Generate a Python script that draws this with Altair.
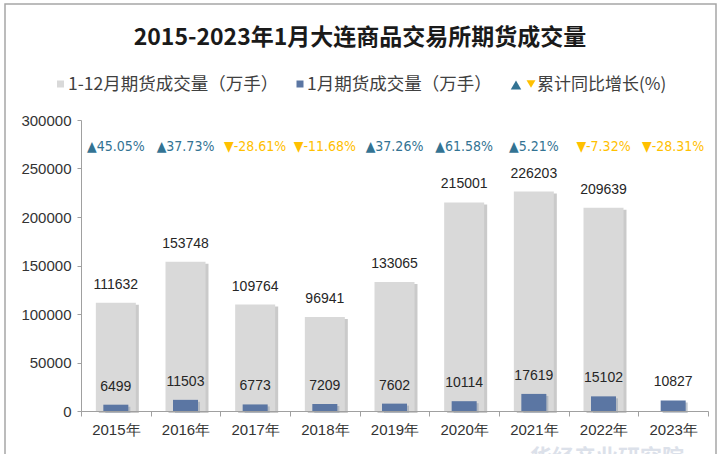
import altair as alt
import pandas as pd

# ---- data ----
years = ["2015年", "2016年", "2017年", "2018年", "2019年", "2020年", "2021年", "2022年", "2023年"]
total_volume = [111632, 153748, 109764, 96941, 133065, 215001, 226203, 209639, None]
jan_volume = [6499, 11503, 6773, 7209, 7602, 10114, 17619, 15102, 10827]
yoy_pct = [45.05, 37.73, -28.61, -11.68, 37.26, 61.58, 5.21, -7.32, -28.31]

title_text = "2015-2023年1月大连商品交易所期货成交量"
legend_total = "1-12月期货成交量（万手）"
legend_jan = "1月期货成交量（万手）"
legend_pct = "累计同比增长(%)"
watermark = "华经产业研究院"

df = pd.DataFrame({"year": years, "total": total_volume, "jan": jan_volume, "pct": yoy_pct})
df["pct_label"] = [("▲" if p > 0 else "▼") + f"{p:.2f}%" for p in yoy_pct]
df["dir"] = ["up" if p > 0 else "down" for p in yoy_pct]

# ---- styles ----
GRAY = "#D9D9D9"
BLUE = "#5B76A3"
UP = "#337393"
DOWN = "#FFC000"
NUM_FONT = "Liberation Sans"
CJK_FONT = "Noto Sans CJK SC"
W, H = 627, 291

one = pd.DataFrame({"k": [0]})

x_enc = alt.X(
    "year:N", sort=years,
    scale=alt.Scale(paddingInner=0, paddingOuter=0),
    axis=alt.Axis(title=None, labelAngle=0, labelFont=NUM_FONT, labelFontSize=15,
                  labelColor="#333333", domainColor="#A0A0A0", tickColor="#A0A0A0",
                  tickBand="extent", tickSize=5, labelPadding=6, zindex=1),
)
y_scale = alt.Scale(domain=[0, 300000], nice=False)
y_axis = alt.Axis(title=None, values=[0, 50000, 100000, 150000, 200000, 250000, 300000],
                  format="d", grid=False, labelFont=NUM_FONT, labelFontSize=15,
                  labelColor="#333333", domainColor="#A0A0A0", tickColor="#A0A0A0",
                  tickSize=4, labelPadding=6, zindex=1)

base = alt.Chart(df)

shadow = base.transform_filter("isValid(datum.total)").mark_bar(
    size=40, color="#BDBDBD", opacity=0.8, xOffset=3, yOffset=2
).encode(x=x_enc, y=alt.Y("total:Q", scale=y_scale, axis=y_axis))

gray_bars = base.transform_filter("isValid(datum.total)").mark_bar(
    size=40, color=GRAY
).encode(x=x_enc, y=alt.Y("total:Q", scale=y_scale, axis=y_axis))

blue_shadow = base.mark_bar(size=25, color="#9AA3B0", opacity=0.6, xOffset=2, yOffset=2).encode(
    x=x_enc, y=alt.Y("jan:Q", scale=y_scale))

blue_bars = base.mark_bar(size=25, color=BLUE).encode(
    x=x_enc, y=alt.Y("jan:Q", scale=y_scale))

total_labels = base.transform_filter("isValid(datum.total)").mark_text(
    font=NUM_FONT, fontSize=14, color="#262626", baseline="middle", dy=-18
).encode(x=x_enc, y=alt.Y("total:Q", scale=y_scale), text=alt.Text("total:Q", format="d"))

jan_labels = base.mark_text(
    font=NUM_FONT, fontSize=14, color="#262626", baseline="middle", dy=-18
).encode(x=x_enc, y=alt.Y("jan:Q", scale=y_scale), text=alt.Text("jan:Q", format="d"))

pct_labels = base.mark_text(font="DejaVu Sans Condensed", fontSize=14, baseline="middle").encode(
    x=x_enc, y=alt.value(27), text="pct_label:N",
    color=alt.Color("dir:N", scale=alt.Scale(domain=["up", "down"], range=[UP, DOWN]), legend=None),
)

frame = alt.Chart(one).mark_rect(fill=None, stroke="#A6A6A6", strokeWidth=1.5).encode(
    x=alt.value(-76), x2=alt.value(635), y=alt.value(-116), y2=alt.value(345))

title = alt.Chart(one).mark_text(font=CJK_FONT, fontSize=23, fontWeight="bold",
                                 color="#1A1A1A", baseline="middle", align="center").encode(
    x=alt.value(279), y=alt.value(-82), text=alt.value(title_text))

leg_sq1 = alt.Chart(one).mark_square(size=49, color=GRAY, opacity=1).encode(
    x=alt.value(-20.5), y=alt.value(-36))
leg_t1 = alt.Chart(one).mark_text(font=CJK_FONT, fontSize=17.5, color="#404040",
                                  align="left", baseline="middle").encode(
    x=alt.value(-13), y=alt.value(-35), text=alt.value(legend_total))
leg_sq2 = alt.Chart(one).mark_square(size=49, color=BLUE, opacity=1).encode(
    x=alt.value(219), y=alt.value(-36))
leg_t2 = alt.Chart(one).mark_text(font=CJK_FONT, fontSize=17.5, color="#404040",
                                  align="left", baseline="middle").encode(
    x=alt.value(226), y=alt.value(-35), text=alt.value(legend_jan))
leg_up = alt.Chart(one).mark_point(shape="triangle-up", size=110, filled=True, color=UP, opacity=1).encode(
    x=alt.value(435), y=alt.value(-35))
leg_down = alt.Chart(one).mark_point(shape="triangle-down", size=80, filled=True, color=DOWN, opacity=1).encode(
    x=alt.value(450), y=alt.value(-36))
leg_t3 = alt.Chart(one).mark_text(font=CJK_FONT, fontSize=17, color="#404040",
                                  align="left", baseline="middle").encode(
    x=alt.value(456), y=alt.value(-35), text=alt.value(legend_pct))

wm = alt.Chart(one).mark_text(font=CJK_FONT, fontSize=22, fontWeight="bold", color="#DCE1EA",
                              align="left", baseline="middle").encode(
    x=alt.value(449), y=alt.value(338), text=alt.value(watermark))

chart = alt.layer(
    frame, title, leg_sq1, leg_t1, leg_sq2, leg_t2, leg_up, leg_down, leg_t3,
    shadow, gray_bars, blue_shadow, blue_bars, total_labels, jan_labels, pct_labels, wm,
).properties(
    width=W, height=H,
    autosize=alt.AutoSizeParams(type="none"),
    padding={"left": 81, "top": 120, "right": 12, "bottom": 43},
    background="white",
).configure_view(stroke=None)

chart.save("out.html", embed_options={"renderer": "svg", "actions": False})
